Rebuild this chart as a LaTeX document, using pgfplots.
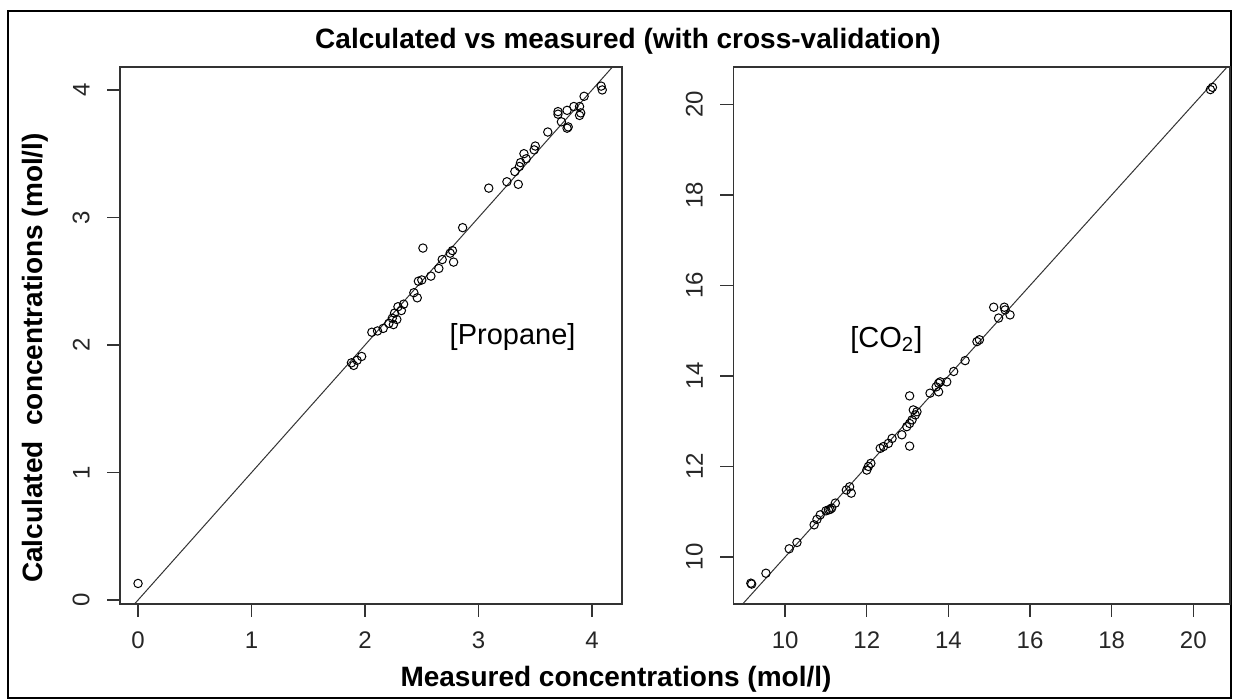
\documentclass[border=0pt]{standalone}
\usepackage{pgfplots}
\pgfplotsset{compat=1.18}
\usepackage{fontspec}
\setmainfont{Liberation Sans}
\begin{document}
\begin{tikzpicture}
\path[use as bounding box] (0pt,0pt) rectangle (616.5pt,350pt);
\fill[white] (0pt,0pt) rectangle (616.5pt,350pt);
\draw[line width=1.4pt,black] (4pt,1pt) rectangle (615.5pt,344.5pt);
\pgfplotsset{rstyle/.style={
  scale only axis, anchor=south west,
  axis line style={line width=0.7pt, black!80},
  tick style={line width=0.7pt, black!80},
  major tick length=6.5pt, tick align=outside,
  xtick pos=lower, ytick pos=left,
  /pgf/number format/assume math mode=true,
  ticklabel style={font=\fontsize{12}{13}\selectfont, text=black!85},
  yticklabel style={xshift=-5.2pt, rotate=90, anchor=south},
  xticklabel style={anchor=north, yshift=-3.75pt},
  clip=true,
}}
\begin{axis}[rstyle, at={(60pt,48pt)}, width=251pt, height=268.5pt,
  xmin=-0.159, xmax=4.264, ymin=-0.031, ymax=4.18,
  xtick={0,1,2,3,4}, ytick={0,1,2,3,4}]
\addplot[black!80, line width=0.5pt] coordinates {(-1,-1) (5,5)};
\addplot[only marks, mark=o, mark size=2.1pt, mark options={line width=0.5pt, black}] coordinates {
(0,0.13) (1.88,1.86) (1.90,1.84) (1.93,1.88) (1.97,1.91) (2.06,2.10) (2.11,2.11)
(2.16,2.13) (2.21,2.17) (2.24,2.21) (2.25,2.16) (2.26,2.25) (2.28,2.20) (2.29,2.30)
(2.32,2.27) (2.34,2.32) (2.43,2.41) (2.46,2.37) (2.47,2.50) (2.50,2.51) (2.51,2.76)
(2.58,2.54) (2.65,2.60) (2.68,2.67) (2.75,2.72) (2.77,2.74) (2.78,2.65) (2.86,2.92)
(3.09,3.23) (3.25,3.28) (3.32,3.36) (3.35,3.26) (3.36,3.40) (3.37,3.43) (3.40,3.50)
(3.42,3.46) (3.49,3.53) (3.50,3.56) (3.61,3.67) (3.70,3.81) (3.70,3.83) (3.73,3.75)
(3.78,3.84) (3.78,3.70) (3.79,3.71) (3.84,3.87) (3.89,3.87) (3.89,3.80) (3.90,3.82)
(3.93,3.95) (4.08,4.03) (4.09,4.00)};
\node[font=\fontsize{14.5}{16}\selectfont] at (axis cs:3.30,2.06) {[Propane]};
\end{axis}
\begin{axis}[rstyle, at={(366.65pt,48pt)}, width=248.35pt, height=268.5pt,
  xmin=8.73, xmax=20.9, ymin=8.96, ymax=20.83,
  xtick={10,12,...,20}, ytick={10,12,...,20}]
\addplot[black!80, line width=0.5pt] coordinates {(8,8) (22,22)};
\addplot[only marks, mark=o, mark size=2.1pt, mark options={line width=0.5pt, black}] coordinates {
(9.16,9.42) (9.18,9.40) (9.53,9.64) (10.10,10.18) (10.29,10.32) (10.71,10.71)
(10.78,10.83) (10.86,10.93) (11.00,11.02) (11.06,11.04) (11.10,11.05) (11.14,11.08)
(11.23,11.19) (11.50,11.48) (11.58,11.55) (11.62,11.41) (12.00,11.92) (12.04,12.00)
(12.10,12.07) (12.33,12.40) (12.41,12.44) (12.53,12.51) (12.62,12.62) (12.86,12.70)
(13.05,12.45) (12.98,12.88) (13.05,12.95) (13.11,13.03) (13.19,13.14) (13.23,13.21)
(13.14,13.25) (13.05,13.56) (13.55,13.62) (13.70,13.76) (13.76,13.84) (13.80,13.87)
(13.76,13.65) (13.96,13.87) (14.13,14.10) (14.41,14.34) (14.70,14.76) (14.76,14.80)
(15.11,15.52) (15.37,15.52) (15.39,15.46) (15.23,15.28) (15.51,15.35)
(20.42,20.33) (20.47,20.38)};
\node[font=\fontsize{14.5}{16}\selectfont] at (axis cs:12.48,14.8) {[CO\textsubscript{2}]};
\end{axis}
\node[font=\bfseries\fontsize{14}{16}\selectfont, anchor=base] at (314pt,325.75pt) {Calculated vs measured (with cross-validation)};
\node[font=\bfseries\fontsize{14}{16}\selectfont, anchor=base] at (308pt,6.5pt) {Measured concentrations (mol/l)};
\node[font=\bfseries\fontsize{14}{16}\selectfont, rotate=90] at (17.5pt,171pt) {Calculated\ \ concentrations (mol/l)};
\end{tikzpicture}
\end{document}
